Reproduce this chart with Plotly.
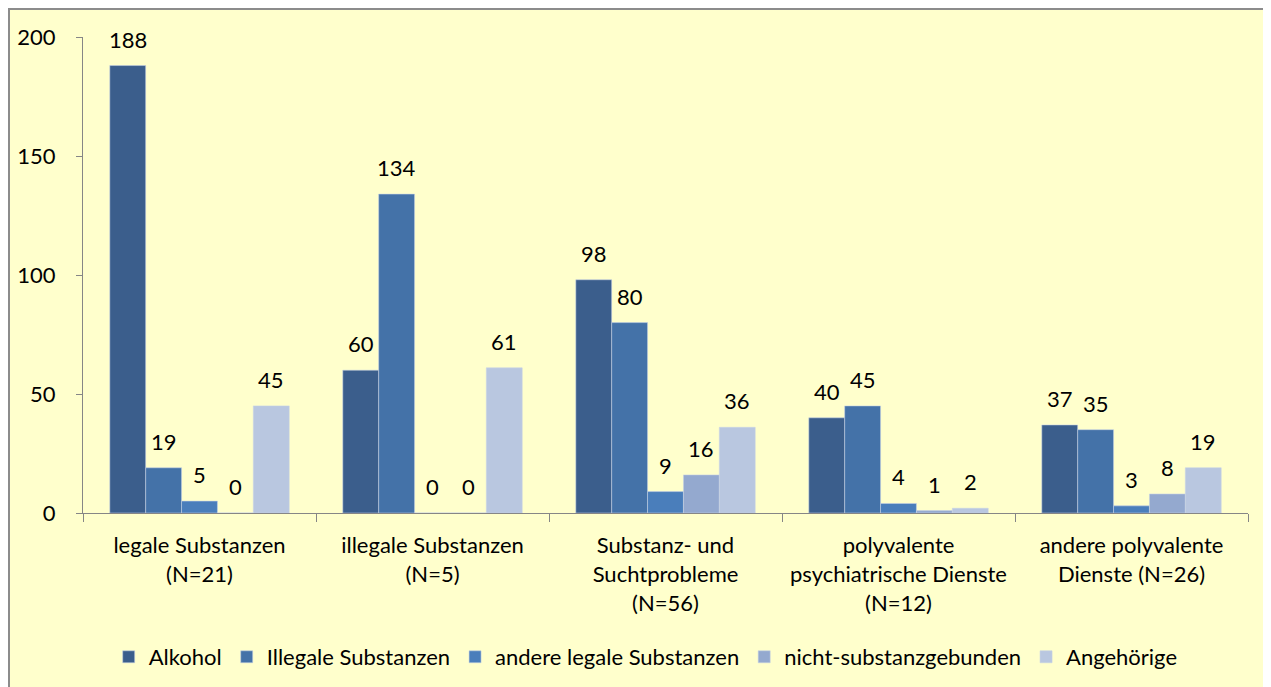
import plotly.graph_objects as go

categories = ["legale Substanzen<br>(N=21)", "illegale Substanzen<br>(N=5)",
              "Substanz- und<br>Suchtprobleme<br>(N=56)",
              "polyvalente<br>psychiatrische Dienste<br>(N=12)",
              "andere polyvalente<br>Dienste (N=26)"]
series_names = ["Alkohol", "Illegale Substanzen", "andere legale Substanzen",
                "nicht-substanzgebunden", "Angehörige"]
alkohol = [188, 60, 98, 40, 37]
illegale = [19, 134, 80, 45, 35]
andere_legale = [5, 0, 9, 4, 3]
nicht_subst = [0, 0, 16, 1, 8]
angehoerige = [45, 61, 36, 2, 19]
y_ticks = [0, 50, 100, 150, 200]

colors = ["#3B5E8C", "#4472A8", "#4A7EBB", "#94A9CF", "#B9C7E0"]
series = [alkohol, illegale, andere_legale, nicht_subst, angehoerige]

FONT = "Lato, 'Open Sans', sans-serif"
FS = 22
BARGAP = 0.23

# page has an 8px body margin; figure sits at (8, 8)
W, H = 1263, 679
L, R, T, B = 75, 23, 29, 174
pw, ph = W - L - R, H - T - B

fig = go.Figure()
nser = len(series)
cat_px = pw / len(categories)
bar_px = cat_px * (1 - BARGAP) / nser
for i, (name, vals, c) in enumerate(zip(series_names, series, colors)):
    fig.add_trace(go.Bar(
        x=categories, y=vals, name=name,
        marker=dict(color=c, line=dict(color="rgba(200,210,230,0.7)", width=0.8)),
        cliponaxis=False,
    ))
    off = (i - (nser - 1) / 2) * bar_px
    for cat, v in zip(categories, vals):
        fig.add_annotation(x=cat, y=v, text=str(v), showarrow=False,
                           xshift=off, yshift=11, yanchor="bottom",
                           font=dict(size=FS, color="black", family=FONT))

fig.add_shape(type="rect", xref="paper", yref="paper",
              x0=(1 - L) / pw, x1=(W + 20 - L) / pw,
              y0=(T + ph - (H + 20)) / ph, y1=(T + ph - 1) / ph,
              fillcolor="#FFFFCC", line=dict(color="#8C8C8C", width=2), layer="below")

fig.update_layout(
    width=W, height=H,
    margin=dict(l=L, r=R, t=T, b=B, autoexpand=False),
    paper_bgcolor="white", plot_bgcolor="rgba(0,0,0,0)",
    barmode="group", bargap=BARGAP, bargroupgap=0,
    font=dict(family=FONT, size=FS, color="black"),
    showlegend=True,
    legend=dict(orientation="h", x=0.483, xanchor="center", y=-0.3025, yanchor="middle",
                font=dict(size=FS, family=FONT), bgcolor="rgba(0,0,0,0)",
                itemwidth=30, traceorder="normal"),
)
fig.update_xaxes(showline=True, linecolor="#868686", linewidth=1,
                 ticks="outside", tickson="boundaries", ticklen=8, tickcolor="#868686",
                 ticklabelstandoff=13,
                 tickfont=dict(size=FS, family=FONT), showgrid=False)
fig.update_yaxes(range=[0, 200], tickvals=y_ticks, showline=True, linecolor="#868686",
                 linewidth=1, ticks="outside", ticklen=6, tickcolor="#868686",
                 ticklabelstandoff=16,
                 showgrid=False, zeroline=False, tickfont=dict(size=FS, family=FONT))

fig.write_html("out.html")
